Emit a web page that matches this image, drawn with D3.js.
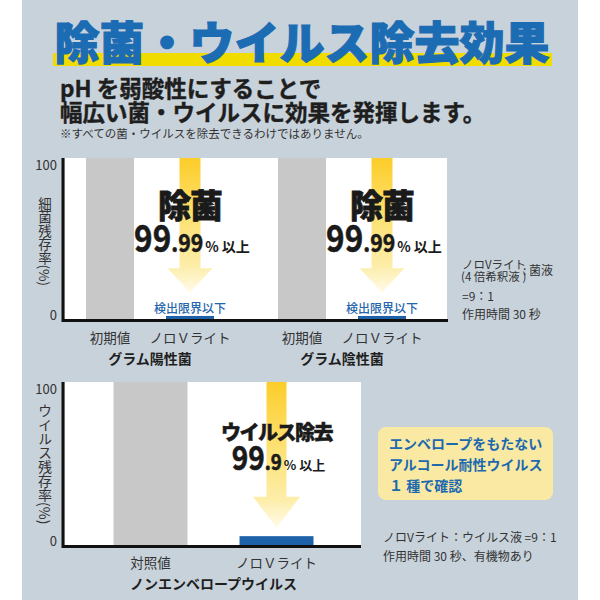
<!DOCTYPE html>
<html><head><meta charset="utf-8">
<script src="https://cdn.jsdelivr.net/npm/d3@7"></script>
<style>
html,body{margin:0;padding:0;background:#fff;}
svg{display:block;}
text{font-family:"Noto Sans CJK JP","Noto Sans",sans-serif;}
</style></head><body>
<svg id="c" width="600" height="600"></svg>
<script>
// ---------- data ----------
const titleText = "除菌・ウイルス除去効果";
const subtitleLines = ["pH を弱酸性にすることで", "幅広い菌・ウイルスに効果を発揮します。"];
const noteText = "※すべての菌・ウイルスを除去できるわけではありません。";

const topGroups = ["グラム陽性菌", "グラム陰性菌"];
const topCategories = ["初期値", "ノロＶライト"];
const topValues = [[100, 2.5], [100, 2.5]];
const topYTicks = [0, 100];
const topYLabel = "細菌残存率(%)";
const topHeadline = "除菌";
const topReduction = ["99", ".99", "% 以上"];
const topDetection = "検出限界以下";
const topConditions = ["ノロVライト", "(4 倍希釈液 )", ":  菌液", "=9：1", "作用時間 30 秒"];

const bottomGroups = ["ノンエンベロープウイルス"];
const bottomCategories = ["対照値", "ノロＶライト"];
const bottomValues = [[100, 6]];
const bottomYTicks = [0, 100];
const bottomYLabel = "ウイルス残存率(%)";
const bottomHeadline = "ウイルス除去";
const bottomReduction = ["99", ".9", "% 以上"];
const bottomBoxLines = ["エンベロープをもたない", "アルコール耐性ウイルス", "１ 種で確認"];
const bottomConditions = ["ノロVライト：ウイルス液 =9：1", "作用時間 30 秒、有機物あり"];

// ---------- drawing ----------
const svg = d3.select("#c");
const defs = svg.append("defs");
const grad = defs.append("linearGradient").attr("id", "arrowGrad")
  .attr("x1", 0).attr("y1", 0).attr("x2", 0).attr("y2", 1);
[[0, "#fccd2a"], [0.45, "#fde173"], [0.8, "#fdeda8"], [1, "#fffbea"]].forEach(([o, c]) =>
  grad.append("stop").attr("offset", o).attr("stop-color", c));

svg.append("rect").attr("x", 22).attr("y", 0).attr("width", 556).attr("height", 600).attr("fill", "#c8d2db");

// title
svg.append("rect").attr("x", 53).attr("y", 53).attr("width", 499).attr("height", 13).attr("fill", "#f1dc00");
svg.append("text").attr("x", 302).attr("y", 40).attr("text-anchor", "middle").attr("dominant-baseline", "central")
  .attr("font-size", 45).attr("font-weight", 900).attr("fill", "#1c6cb4")
  .attr("stroke", "#1c6cb4").attr("stroke-width", 1.2).text(titleText);

subtitleLines.forEach((t, i) => {
  svg.append("text").attr("x", 60).attr("y", 87 + i * 24).attr("dominant-baseline", "central")
    .attr("font-size", 22.5).attr("font-weight", 700).attr("fill", "#1e1e1e")
    .attr("stroke", "#1e1e1e").attr("stroke-width", 0.4).text(t);
});
svg.append("text").attr("x", 60).attr("y", 133).attr("dominant-baseline", "central")
  .attr("font-size", 11.5).attr("fill", "#333").text(noteText);

function drawReduction(g, cx, baseline, parts, sizes, scale) {
  const grp = g.append("g");
  const num = grp.append("text").attr("font-family", "'Liberation Sans', Arial, sans-serif")
    .attr("font-weight", 700).attr("fill", "#1a1a1a").attr("stroke", "#1a1a1a").attr("stroke-width", 0.6);
  num.append("tspan").attr("font-size", sizes[0]).text(parts[0]);
  num.append("tspan").attr("font-size", sizes[1]).text(parts[1]);
  num.attr("transform", `scale(${scale},1)`);
  const nw = num.node().getComputedTextLength() * scale;
  const suf = grp.append("text").attr("x", nw + 2).attr("font-size", sizes[2]).attr("fill", "#1a1a1a")
    .attr("font-weight", 700).text(parts[2]);
  const total = nw + 2 + suf.node().getComputedTextLength();
  grp.attr("transform", `translate(${cx - total / 2},${baseline})`);
}

function drawChart(cfg) {
  const g = svg.append("g");
  const y = d3.scaleLinear().domain([0, 100]).range([cfg.bottom, cfg.top]);
  const x0 = d3.scaleBand().domain(cfg.groups).range(cfg.groupRange);
  const x1 = d3.scaleBand().domain(cfg.categories).range([0, x0.bandwidth()])
    .paddingInner(cfg.pi).paddingOuter(cfg.po);

  g.append("rect").attr("x", cfg.left).attr("y", cfg.top).attr("width", cfg.right - cfg.left)
    .attr("height", cfg.bottom - cfg.top).attr("fill", "#fff");

  cfg.groups.forEach((grp, gi) => {
    const gx = x0(grp);
    cfg.categories.forEach((cat, ci) => {
      const v = cfg.values[gi][ci];
      g.append("rect").attr("x", gx + x1(cat)).attr("width", x1.bandwidth())
        .attr("y", y(v)).attr("height", y(0) - y(v)).attr("fill", ci === 0 ? "#c8c8c8" : "#1d62a8");
    });
    // arrow on treated bar
    const cat = cfg.categories[1];
    const cx = gx + x1(cat) + x1.bandwidth() / 2;
    const a = cfg.arrow;
    const yHead = y(a.headStart), yTip = y(a.tip);
    const path = `M${cx - a.shaft},${cfg.top} L${cx + a.shaft},${cfg.top} L${cx + a.shaft},${yHead} L${cx + a.head},${yHead} L${cx},${yTip} L${cx - a.head},${yHead} L${cx - a.shaft},${yHead} Z`;
    g.append("path").attr("d", path).attr("fill", "url(#arrowGrad)");
    // headline
    g.append("text").attr("x", cx).attr("y", cfg.top + cfg.headlineDy).attr("text-anchor", "middle")
      .attr("dominant-baseline", "central").attr("font-size", cfg.headlineSize).attr("font-weight", 900)
      .attr("letter-spacing", cfg.headlineLs).attr("fill", "#1a1a1a")
      .attr("stroke", "#1a1a1a").attr("stroke-width", cfg.headlineStroke).text(cfg.headline);
    drawReduction(g, cx + 2, cfg.top + cfg.reductionDy, cfg.reduction, cfg.reductionSizes, 0.85);
    if (cfg.detection) {
      g.append("text").attr("x", cx).attr("y", cfg.bottom - 13).attr("text-anchor", "middle")
        .attr("dominant-baseline", "central").attr("font-size", 12).attr("font-weight", 500)
        .attr("fill", "#2466ab").text(cfg.detection);
    }
    // category labels
    cfg.categories.forEach(c => {
      g.append("text").attr("x", gx + x1(c) + x1.bandwidth() / 2).attr("y", cfg.bottom + cfg.catDy)
        .attr("text-anchor", "middle").attr("dominant-baseline", "central").attr("font-size", 13.5)
        .attr("fill", "#333").text(c);
    });
    // group label
    const centers = cfg.categories.map(c => gx + x1(c) + x1.bandwidth() / 2);
    g.append("text").attr("x", d3.mean(centers)).attr("y", cfg.bottom + cfg.grpDy)
      .attr("text-anchor", "middle").attr("dominant-baseline", "central").attr("font-size", 14)
      .attr("font-weight", 700).attr("fill", "#1e1e1e").text(grp);
  });

  // y axis ticks
  const ax = g.append("g").attr("transform", `translate(${cfg.left - 8},0)`)
    .call(d3.axisLeft(y).tickValues(cfg.yTicks).tickSize(0).tickPadding(0));
  ax.select(".domain").remove();
  ax.selectAll("text").attr("font-family", "'Liberation Sans', Arial, sans-serif").attr("font-size", 13)
    .attr("fill", "#333").attr("dy", d => d === 100 ? "0.85em" : "-0.05em");

  // y axis title (vertical)
  g.append("text").attr("x", cfg.left - 20).attr("y", cfg.yLabelTop)
    .style("writing-mode", "vertical-rl").attr("font-size", cfg.yLabelSize)
    .attr("fill", "#333").text(cfg.yLabel);

  // axis lines
  g.append("path").attr("d", `M${cfg.left - 2},${cfg.top} L${cfg.left - 2},${cfg.bottom + 0.5} L${cfg.axisRight},${cfg.bottom + 0.5}`)
    .attr("fill", "none").attr("stroke", "#111").attr("stroke-width", 3);
}

drawChart({
  groups: topGroups, categories: topCategories, values: topValues, yTicks: topYTicks,
  left: 65, right: 447, top: 158, bottom: 320, axisRight: 448,
  groupRange: [54, 438], pi: 0.4, po: 0.4,
  arrow: { shaft: 10.5, head: 22.5, headStart: 32, tip: 17 },
  headline: topHeadline, headlineSize: 33, headlineLs: -1, headlineDy: 46, headlineStroke: 0.8,
  reduction: topReduction, reductionSizes: [37, 25, 14], reductionDy: 94,
  detection: topDetection, catDy: 17, grpDy: 38,
  yLabel: topYLabel, yLabelTop: 197, yLabelSize: 13.5
});

drawChart({
  groups: bottomGroups, categories: bottomCategories, values: bottomValues, yTicks: bottomYTicks,
  left: 65, right: 361, top: 382, bottom: 546, axisRight: 361,
  groupRange: [66, 361], pi: 0.413, po: 0.377,
  arrow: { shaft: 10, head: 23.5, headStart: 30, tip: 11 },
  headline: bottomHeadline, headlineSize: 20, headlineLs: -1.5, headlineDy: 49, headlineStroke: 0.5,
  reduction: bottomReduction, reductionSizes: [33, 22, 13], reductionDy: 88,
  detection: null, catDy: 16, grpDy: 37,
  yLabel: bottomYLabel, yLabelTop: 404, yLabelSize: 14
});

// top conditions note
const tc = svg.append("g").attr("font-size", 11.5).attr("fill", "#333");
tc.append("text").attr("x", 462).attr("y", 264).attr("dominant-baseline", "central").text(topConditions[0]);
tc.append("text").attr("x", 461).attr("y", 276).attr("dominant-baseline", "central").text(topConditions[1]);
tc.append("text").attr("x", 523).attr("y", 269).attr("dominant-baseline", "central").attr("font-size", 12).text(topConditions[2]);
tc.append("text").attr("x", 462).attr("y", 295).attr("dominant-baseline", "central").attr("font-size", 12).text(topConditions[3]);
tc.append("text").attr("x", 462).attr("y", 313).attr("dominant-baseline", "central").attr("font-size", 12).text(topConditions[4]);

// bottom box
svg.append("rect").attr("x", 378).attr("y", 427).attr("width", 175).attr("height", 73).attr("rx", 8)
  .attr("fill", "#f9e9a3");
bottomBoxLines.forEach((t, i) => {
  svg.append("text").attr("x", 389).attr("y", 443 + i * 21).attr("dominant-baseline", "central")
    .attr("font-size", 14).attr("font-weight", 700).attr("fill", "#1d69b0").text(t);
});
bottomConditions.forEach((t, i) => {
  svg.append("text").attr("x", 383).attr("y", 536 + i * 19).attr("dominant-baseline", "central")
    .attr("font-size", 12).attr("fill", "#333").text(t);
});
</script>
</body></html>
